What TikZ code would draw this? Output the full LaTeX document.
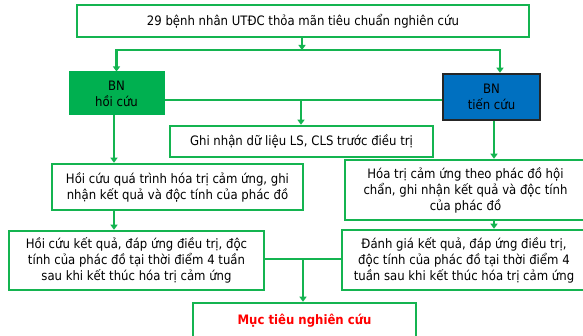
\documentclass[tikz,border=0pt]{standalone}
\usepackage{fontspec}
\setmainfont{DejaVu Sans Condensed}
\usetikzlibrary{arrows.meta}
\definecolor{gline}{RGB}{20,180,80}
\definecolor{gfill}{RGB}{0,176,80}
\definecolor{bfill}{RGB}{0,112,192}
\definecolor{rtext}{RGB}{255,0,0}
\begin{document}
\begin{tikzpicture}[x=1pt,y=-1pt,
  every node/.style={font=\fontsize{13}{16}\selectfont, align=center, inner sep=0pt},
  gbox/.style={draw=gline, line width=2.5pt, fill=white, rectangle},
  conn/.style={draw=gline, line width=2.5pt},
  arr/.style={conn, -{Triangle[width=7pt,length=5pt]}}]
\useasboundingbox (0,0) rectangle (583,336);
\fill[white] (0,0) rectangle (583,336);
\node[gbox, minimum width=452, minimum height=32] (top) at (303,21) {29 bệnh nhân UTĐC thỏa mãn tiêu chuẩn nghiên cứu};
\node[rectangle, fill=gfill, draw=gfill, line width=1pt, minimum width=95, minimum height=43] (hoi) at (116.5,93.5) {BN\\hồi cứu};
\node[rectangle, fill=bfill, draw=black!85, line width=2.5pt, minimum width=97, minimum height=46] (tien) at (491.5,97) {BN\\tiến cứu};
\node[gbox, minimum width=263, minimum height=31] (ghi) at (301.5,141.5) {Ghi nhận dữ liệu LS, CLS trước điều trị};
\node[gbox, minimum width=251, minimum height=46] (hoiqt) at (177.5,187) {Hồi cứu quá trình hóa trị cảm ứng, ghi\\nhận kết quả và độc tính của phác đồ};
\node[gbox, minimum width=241, minimum height=60] (hoatri) at (465.5,190) {Hóa trị cảm ứng theo phác đồ hội\\chẩn, ghi nhận kết quả và độc tính\\của phác đồ};
\node[gbox, minimum width=255, minimum height=59] (hoikq) at (136.5,260.5) {Hồi cứu kết quả, đáp ứng điều trị, độc\\tính của phác đồ tại thời điểm 4 tuần\\sau khi kết thúc hóa trị cảm ứng};
\node[gbox, minimum width=244, minimum height=60] (danhgia) at (464,260) {Đánh giá kết quả, đáp ứng điều trị,\\độc tính của phác đồ tại thời điểm 4\\tuần sau khi kết thúc hóa trị cảm ứng};
\node[gbox, minimum width=223, minimum height=36, text=rtext, font=\fontsize{13}{16}\selectfont\bfseries] (muc) at (304.5,321) {Mục tiêu nghiên cứu};
% connectors
\coordinate (split) at (302,50);
\draw[arr] (top.south -| split) -- (split);
\coordinate (tienin) at (500,0);
\draw[arr] (split) -| (hoi.north);
\draw[arr] (split) -| (tienin |- tien.north);
\coordinate (mid) at (301,100);
\draw[conn] (hoi.east |- mid) -- (tien.west |- mid);
\draw[arr] (mid) -- (mid |- ghi.north);
\draw[arr] (hoi.south -| 114,0) -- (114,0 |- hoiqt.north);
\coordinate (rx) at (494,0);
\draw[arr] (rx |- tien.south) -- (rx |- hoatri.north);
\draw[arr] (114,0 |- hoiqt.south) -- (114,0 |- hoikq.north);
\draw[arr] (rx |- hoatri.south) -- (rx |- danhgia.north);
\coordinate (mid2) at (303,259);
\draw[conn] (hoikq.east |- mid2) -- (danhgia.west |- mid2);
\draw[arr] (mid2) -- (mid2 |- muc.north);
\end{tikzpicture}
\end{document}
